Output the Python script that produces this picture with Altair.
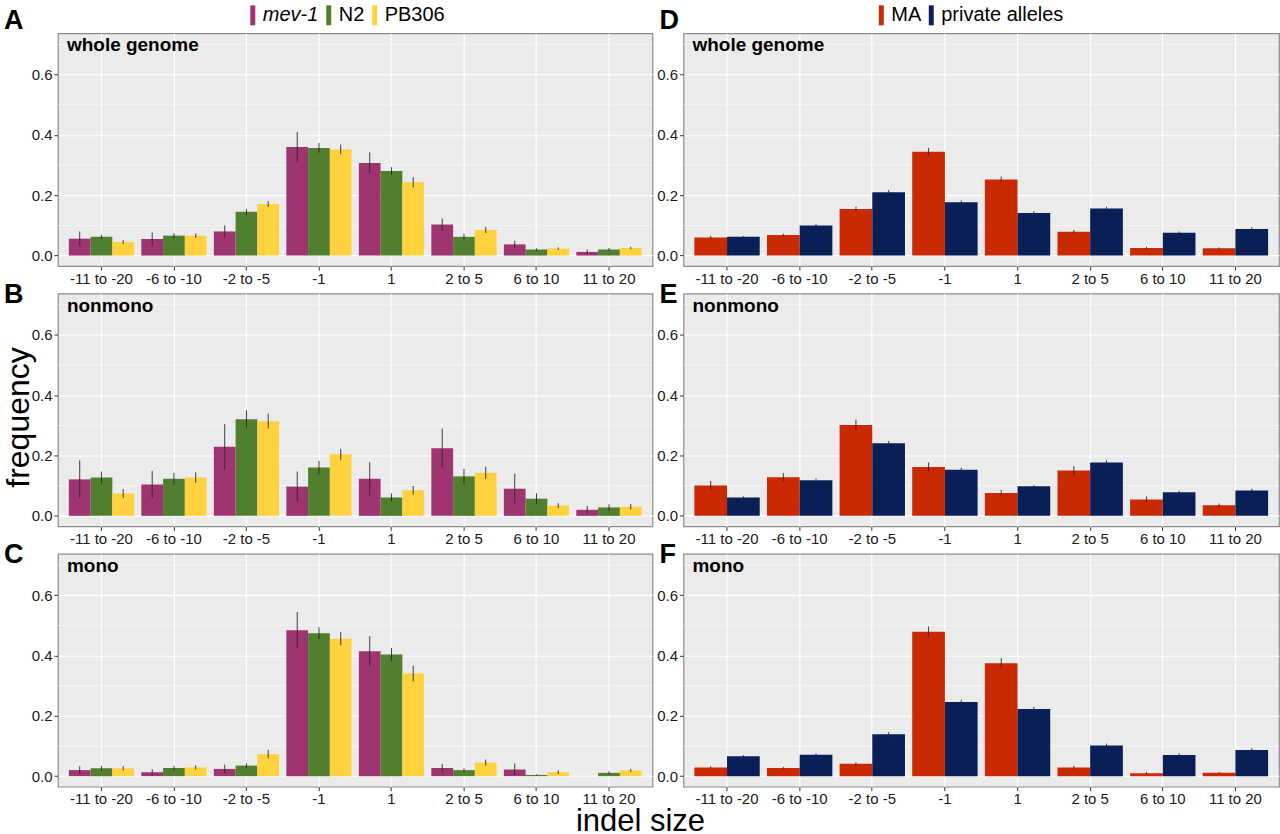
import altair as alt
import pandas as pd

categories = ["-11 to -20", "-6 to -10", "-2 to -5", "-1", "1", "2 to 5", "6 to 10", "11 to 20"]
strains = ["mev-1", "N2", "PB306"]
strain_colors = ["#9E3470", "#517F2F", "#FDD23E"]
groups = ["MA", "private alleles"]
group_colors = ["#C92A04", "#0B1F57"]
major_ticks = [0.0, 0.2, 0.4, 0.6]
minor_ticks = [0.1, 0.3, 0.5, 0.7]
panel_titles = ["whole genome", "nonmono", "mono"]
letters_left = ["A", "B", "C"]
letters_right = ["D", "E", "F"]

# left column (strains): frequency and error half-width
whole_mev1 = [0.056, 0.055, 0.080, 0.360, 0.307, 0.103, 0.037, 0.012]
whole_mev1_err = [0.024, 0.022, 0.020, 0.050, 0.035, 0.020, 0.012, 0.008]
whole_n2 = [0.062, 0.066, 0.145, 0.357, 0.280, 0.062, 0.020, 0.020]
whole_n2_err = [0.007, 0.008, 0.010, 0.016, 0.013, 0.010, 0.004, 0.005]
whole_pb = [0.045, 0.066, 0.171, 0.352, 0.243, 0.085, 0.023, 0.025]
whole_pb_err = [0.006, 0.007, 0.010, 0.016, 0.017, 0.010, 0.004, 0.004]

non_mev1 = [0.121, 0.104, 0.229, 0.097, 0.123, 0.224, 0.090, 0.020]
non_mev1_err = [0.063, 0.045, 0.075, 0.050, 0.055, 0.065, 0.050, 0.013]
non_n2 = [0.127, 0.123, 0.320, 0.160, 0.061, 0.131, 0.057, 0.028]
non_n2_err = [0.020, 0.020, 0.030, 0.022, 0.013, 0.025, 0.018, 0.010]
non_pb = [0.074, 0.127, 0.314, 0.204, 0.085, 0.143, 0.034, 0.030]
non_pb_err = [0.015, 0.017, 0.025, 0.018, 0.014, 0.020, 0.008, 0.009]

mono_mev1 = [0.020, 0.013, 0.024, 0.484, 0.414, 0.027, 0.022, 0.0]
mono_mev1_err = [0.013, 0.010, 0.014, 0.060, 0.050, 0.014, 0.020, 0.0]
mono_n2 = [0.026, 0.027, 0.035, 0.474, 0.403, 0.020, 0.004, 0.011]
mono_n2_err = [0.008, 0.007, 0.008, 0.020, 0.022, 0.006, 0.002, 0.005]
mono_pb = [0.026, 0.029, 0.073, 0.456, 0.340, 0.045, 0.013, 0.019]
mono_pb_err = [0.007, 0.007, 0.014, 0.022, 0.026, 0.010, 0.006, 0.005]

# right column (MA vs private alleles)
whole_ma = [0.060, 0.068, 0.154, 0.344, 0.252, 0.079, 0.025, 0.024]
whole_ma_err = [0.005, 0.005, 0.008, 0.013, 0.010, 0.006, 0.004, 0.003]
whole_pa = [0.062, 0.100, 0.210, 0.177, 0.141, 0.156, 0.076, 0.088]
whole_pa_err = [0.003, 0.004, 0.007, 0.006, 0.006, 0.006, 0.004, 0.006]
non_ma = [0.101, 0.128, 0.301, 0.162, 0.076, 0.150, 0.054, 0.035]
non_ma_err = [0.015, 0.014, 0.018, 0.015, 0.010, 0.015, 0.010, 0.006]
non_pa = [0.061, 0.118, 0.241, 0.153, 0.098, 0.177, 0.078, 0.084]
non_pa_err = [0.004, 0.006, 0.007, 0.006, 0.004, 0.007, 0.005, 0.006]
mono_ma = [0.029, 0.027, 0.041, 0.479, 0.374, 0.029, 0.010, 0.011]
mono_ma_err = [0.004, 0.004, 0.005, 0.017, 0.017, 0.005, 0.004, 0.003]
mono_pa = [0.066, 0.071, 0.139, 0.246, 0.223, 0.102, 0.070, 0.087]
mono_pa_err = [0.004, 0.005, 0.007, 0.007, 0.007, 0.006, 0.006, 0.006]

FONT = "Liberation Sans"
H = 233
YDOM = [-0.035, 0.737]


def make_panel(values, errs, series, colors, field, title, letter, letter_x, letter_y,
               legend, width, extra=()):
    rows = []
    for s, v, e in zip(series, values, errs):
        for c, vv, ee in zip(categories, v, e):
            rows.append({"size": c, field: s, "freq": vv,
                         "lo": max(vv - ee, 0.0), "hi": vv + ee, "err": ee})
    df = pd.DataFrame(rows)
    yscale = alt.Scale(domain=YDOM, nice=False, zero=False)
    yaxis = alt.Axis(title=None, values=major_ticks, format=".1f", labelPadding=2)
    x = alt.X("size:N", sort=categories,
              scale=alt.Scale(domain=categories, paddingInner=0.1, paddingOuter=0.15),
              axis=alt.Axis(title=None, labelAngle=0, grid=True, bandPosition=0.5,
                            labelPadding=1))
    xo = alt.XOffset(f"{field}:N", sort=series,
                     scale=alt.Scale(domain=series, paddingInner=0, paddingOuter=0))
    minor = alt.Chart(pd.DataFrame({"v": minor_ticks})).mark_rule(
        color="white", strokeWidth=0.5).encode(y=alt.Y("v:Q", scale=yscale, axis=yaxis))
    bars = alt.Chart(df).mark_bar().encode(
        x=x, xOffset=xo,
        y=alt.Y("freq:Q", scale=yscale, axis=yaxis),
        y2=alt.datum(0),
        color=alt.Color(f"{field}:N", sort=series,
                        scale=alt.Scale(domain=series, range=colors), legend=legend),
    )
    err = alt.Chart(df).transform_filter("datum.err > 0").mark_rule(
        color="#2a2a2a", strokeWidth=0.9).encode(
        x=x, xOffset=xo,
        y=alt.Y("lo:Q", scale=yscale, axis=yaxis), y2="hi:Q")
    ttl = alt.Chart(pd.DataFrame({"t": [title]})).mark_text(
        align="left", baseline="top", fontSize=19, fontWeight="bold", font=FONT,
        color="black").encode(x=alt.value(9), y=alt.value(3), text="t:N")
    let = alt.Chart(pd.DataFrame({"t": [letter]})).mark_text(
        align="left", baseline="alphabetic", fontSize=27, fontWeight="bold", font=FONT,
        color="black").encode(x=alt.value(letter_x), y=alt.value(letter_y), text="t:N")
    return alt.layer(minor, bars, err, ttl, let, *extra).properties(width=width, height=H)


def legend_for(x, italic_label=None):
    kw = dict(orient="none", legendX=x, legendY=-28, direction="horizontal", title=None,
              symbolType="M-1,-4H1V4H-1Z", symbolSize=25, symbolStrokeWidth=0,
              symbolOpacity=1, labelFontSize=20, labelFont=FONT, labelColor="black",
              labelOffset=0, columnPadding=-6, padding=0)
    if italic_label:
        kw["labelFontStyle"] = alt.ExprRef(
            expr=f"datum.label === '{italic_label}' ? 'italic' : 'normal'")
    return alt.Legend(**kw)


ylab = alt.Chart(pd.DataFrame({"t": ["frequency"]})).mark_text(
    angle=270, align="center", baseline="middle", fontSize=32, font=FONT,
    color="black").encode(x=alt.value(-39), y=alt.value(124), text="t:N")
xlab = alt.Chart(pd.DataFrame({"t": ["indel size"]})).mark_text(
    align="center", baseline="alphabetic", fontSize=31, font=FONT,
    color="black").encode(x=alt.value(583), y=alt.value(277), text="t:N")

LW, RW = 595, 596
A = make_panel([whole_mev1, whole_n2, whole_pb], [whole_mev1_err, whole_n2_err, whole_pb_err],
               strains, strain_colors, "strain", panel_titles[0], letters_left[0], -54, -4,
               legend_for(185, "mev-1"), LW)
B = make_panel([non_mev1, non_n2, non_pb], [non_mev1_err, non_n2_err, non_pb_err],
               strains, strain_colors, "strain", panel_titles[1], letters_left[1], -54, 9,
               None, LW, extra=(ylab,))
C = make_panel([mono_mev1, mono_n2, mono_pb], [mono_mev1_err, mono_n2_err, mono_pb_err],
               strains, strain_colors, "strain", panel_titles[2], letters_left[2], -54, 9,
               None, LW, extra=(xlab,))
D = make_panel([whole_ma, whole_pa], [whole_ma_err, whole_pa_err],
               groups, group_colors, "group", panel_titles[0], letters_right[0], -24, -4,
               legend_for(188), RW)
E = make_panel([non_ma, non_pa], [non_ma_err, non_pa_err],
               groups, group_colors, "group", panel_titles[1], letters_right[1], -24, 9,
               None, RW)
F = make_panel([mono_ma, mono_pa], [mono_ma_err, mono_pa_err],
               groups, group_colors, "group", panel_titles[2], letters_right[2], -24, 9,
               None, RW)

res = dict(x="independent", y="independent", color="independent", xOffset="independent")
chart = alt.concat(
    A, D, B, E, C, F, columns=2, spacing={"row": 27.5, "column": 31}, bounds="flush"
).resolve_scale(**res).properties(
    padding={"left": 2, "top": 4, "right": 0, "bottom": 0}, background="white"
).configure_view(
    fill="#EBEBEB", stroke="#8c8c8c", strokeWidth=1.2
).configure_axis(
    labelFont=FONT, labelFontSize=15, labelColor="#1a1a1a", domain=False,
    ticks=True, tickColor="#333333", tickSize=4, tickWidth=1,
    gridColor="white", gridWidth=1.1, gridOpacity=1
)

chart.save("out.html", embed_options={"renderer": "svg", "actions": False})
